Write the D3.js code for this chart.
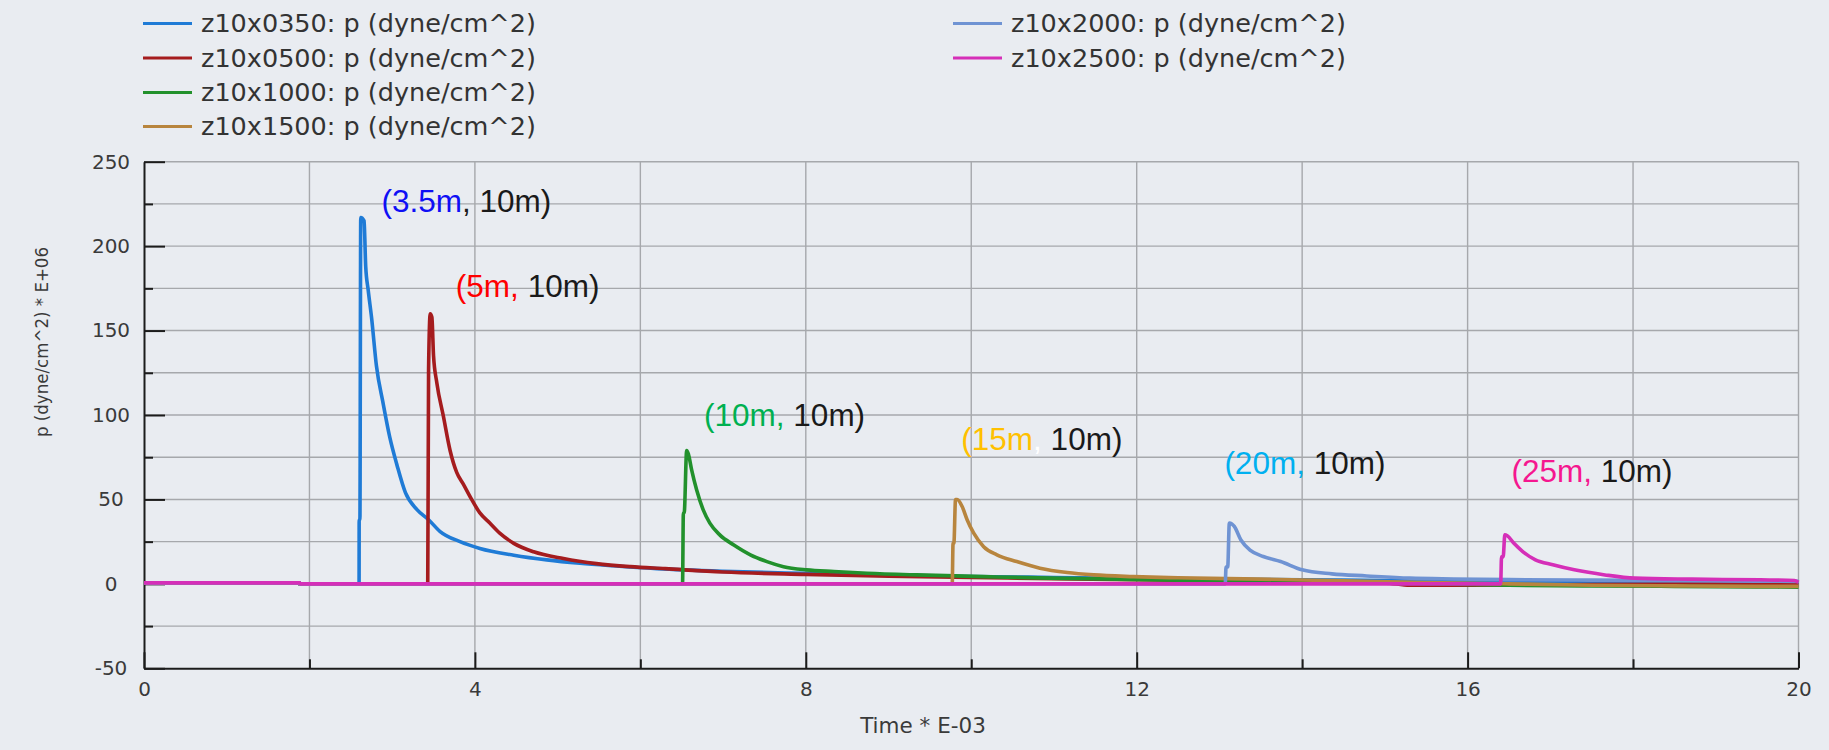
<!DOCTYPE html>
<html>
<head>
<meta charset="utf-8">
<script src="https://cdn.jsdelivr.net/npm/d3@7"></script>
<style>
  html, body { margin: 0; padding: 0; background: #e9ecf1; }
  svg { display: block; }
</style>
</head>
<body>
<svg id="chart" width="1829" height="750"></svg>
<script>
// Pressure histories p (1e6 dyne/cm^2) against time (ms) at six gauge stations.
const tS0350 = [0, 1.88, 1.881, 2.60, 2.601, 2.61, 2.62, 2.66, 2.68, 2.71, 2.75, 2.81, 2.89, 2.97, 3.06, 3.16, 3.30, 3.44, 3.58, 3.82, 4.06, 4.47, 4.87, 5.27, 5.67, 6.2, 7.0, 8.0, 9.0, 10.0, 11.0, 12.0, 13.0, 14.0, 15.0, 16.0, 17.0, 18.0, 19.0, 20.0];
const pS0350 = [0.6, 0.6, 0, 0, 38, 38, 217, 215, 188, 174, 158, 129, 107, 87, 70, 54, 44, 38, 31, 25, 21, 17, 14.2, 12.2, 10.7, 9.0, 7.4, 6.2, 5.2, 4.4, 3.8, 3.2, 2.8, 2.4, 2.0, 1.6, 1.3, 1.0, 0.8, 0.5];

const tS0500 = [0, 1.88, 1.881, 3.42, 3.43, 3.44, 3.46, 3.48, 3.50, 3.54, 3.62, 3.70, 3.78, 3.86, 3.96, 4.06, 4.18, 4.30, 4.47, 4.71, 5.07, 5.47, 5.88, 6.3, 7.0, 8.0, 9.0, 10.0, 11.0, 12.0, 13.0, 14.0, 15.0, 15.3, 16.0, 17.0, 18.0, 19.0, 20.0];
const pS0500 = [0.6, 0.6, 0, 0, 1, 127, 160, 158, 135, 119, 99, 79, 66, 59, 50, 42, 36, 30, 24, 19, 15, 12, 10.2, 9.0, 7.0, 5.6, 4.5, 3.8, 3.0, 2.4, 1.8, 1.2, 0.6, -0.8, -0.8, -0.5, -0.3, 0, -0.5];

const tS1000 = [0, 1.88, 1.881, 6.51, 6.52, 6.53, 6.56, 6.58, 6.62, 6.68, 6.76, 6.84, 6.96, 7.13, 7.33, 7.53, 7.73, 8.01, 8.34, 8.74, 9.34, 10.15, 10.95, 11.76, 12.5, 13.5, 14.5, 15.5, 16.5, 17.5, 18.5, 19.5, 20.0];
const pS1000 = [0.6, 0.6, 0, 0, 42, 42, 79, 77, 67.5, 55.7, 43.8, 36, 29, 23, 17.2, 13.2, 10.2, 8.3, 7.3, 6.3, 5.3, 4.3, 3.4, 2.8, 2.2, 1.6, 0.8, 0, -0.8, -1.2, -1.5, -1.8, -2];

const tS1500 = [0, 1.88, 1.881, 9.77, 9.78, 9.79, 9.81, 9.83, 9.89, 9.95, 10.03, 10.15, 10.31, 10.55, 10.83, 11.16, 11.48, 11.96, 12.5, 13.5, 14.5, 15.5, 16.5, 17.5, 18.5, 19.5, 20.0];
const pS1500 = [0.6, 0.6, 0, 0, 24, 24, 50, 50, 45.8, 38, 30, 22, 17.2, 13.2, 9.3, 6.7, 5.3, 4.3, 3.6, 2.8, 1.8, 0.8, 0, -0.8, -1.2, -1.5, -1.5];

const tS2000 = [0, 1.88, 1.881, 13.07, 13.08, 13.10, 13.12, 13.15, 13.18, 13.26, 13.37, 13.53, 13.74, 14.0, 14.36, 14.78, 15.30, 15.83, 16.5, 17.5, 18.5, 19.5, 20.0];
const pS2000 = [0.6, 0.6, 0, 0, 10, 10, 36, 35.5, 34, 26, 20, 16.2, 13.2, 8.3, 5.9, 4.7, 3.4, 2.9, 2.5, 2.2, 1.9, 1.6, 1.5];

const tS2500 = [0, 1.88, 1.89, 16.40, 16.41, 16.43, 16.45, 16.48, 16.56, 16.67, 16.82, 17.03, 17.29, 17.66, 18.02, 18.71, 19.54, 19.95, 20.0];
const pS2500 = [0.6, 0.6, 0, 0, 16, 16, 29, 28.5, 24, 19, 14.2, 11.3, 8.3, 5.3, 3.4, 2.8, 2.4, 2.0, 1.0];

const seriesNames = ["z10x0350: p (dyne/cm^2)", "z10x0500: p (dyne/cm^2)", "z10x1000: p (dyne/cm^2)",
                     "z10x1500: p (dyne/cm^2)", "z10x2000: p (dyne/cm^2)", "z10x2500: p (dyne/cm^2)"];
const seriesTimes = [tS0350, tS0500, tS1000, tS1500, tS2000, tS2500];
const seriesValues = [pS0350, pS0500, pS1000, pS1500, pS2000, pS2500];
const seriesColors = ["#1f7bd6", "#a51c1e", "#22912c", "#b8853e", "#6f93d3", "#d52fb8"];

// x ticks (ms) and y ticks (1e6 dyne/cm^2)
const xMajorTicks = [0, 4, 8, 12, 16, 20];
const xMinorTicks = [2, 6, 10, 14, 18];
const yMajorTicks = [-50, 0, 50, 100, 150, 200, 250];
const yMinorTicks = [-25, 25, 75, 125, 175, 225];
const xGridValues = [2, 4, 6, 8, 10, 12, 14, 16, 18, 20];
const yGridValues = [-25, 0, 25, 50, 75, 100, 125, 150, 175, 200, 225, 250];

// station annotations: (x offset, depth) placed at (time, pressure)
const noteLead = ["(3.5m", "(5m", "(10m", "(15m", "(20m", "(25m"];
const noteTail = " 10m)";
const noteT = [2.87, 3.77, 6.77, 9.88, 13.06, 16.53];
const noteP = [220, 170, 93.5, 79.3, 65, 60.4];
const noteColors = ["#0f0ff5", "#ff0000", "#00b050", "#ffc000", "#00b0f0", "#f5178f"];
const noteCommaColors = ["#1a1a1a", "#ff0000", "#00b050", "#ffffff", "#00b0f0", "#f5178f"];

const svg = d3.select("#chart");
const W = 1829, H = 750;
svg.append("rect").attr("width", W).attr("height", H).attr("fill", "#e9ecf1");

const plot = { left: 144, right: 1798.5, top: 161.7, bottom: 668.3 };
const x = d3.scaleLinear().domain([0, 20]).range([plot.left, plot.right]);
const y = d3.scaleLinear().domain([-50, 250]).range([plot.bottom, plot.top]);

// grid
const grid = svg.append("g").attr("stroke", "#a6a8ac").attr("stroke-width", 1.4);
grid.selectAll("line.h").data(yGridValues).join("line")
  .attr("x1", plot.left).attr("x2", plot.right)
  .attr("y1", d => y(d)).attr("y2", d => y(d));
grid.selectAll("line.v").data(xGridValues).join("line")
  .attr("y1", plot.top).attr("y2", plot.bottom)
  .attr("x1", d => x(d)).attr("x2", d => x(d));

const axisFont = "'DejaVu Sans', sans-serif";
const plain = d => String(d);

// y axis: inward ticks, centred labels
const yAxis = svg.append("g").attr("transform", `translate(${plot.left},0)`)
  .call(d3.axisLeft(y).tickValues(yMajorTicks).tickSize(-21).tickSizeOuter(0).tickFormat(plain));
svg.append("g").attr("transform", `translate(${plot.left},0)`)
  .call(d3.axisLeft(y).tickValues(yMinorTicks).tickSize(-9).tickFormat(""))
  .call(g => g.select(".domain").remove());
yAxis.selectAll("text").attr("x", -33).attr("text-anchor", "middle")
  .attr("font-family", axisFont).attr("font-size", 20).attr("fill", "#3a3a3a");

// x axis
const xAxis = svg.append("g").attr("transform", `translate(0,${plot.bottom})`)
  .call(d3.axisBottom(x).tickValues(xMajorTicks).tickSize(-16).tickSizeOuter(0).tickFormat(plain));
svg.append("g").attr("transform", `translate(0,${plot.bottom})`)
  .call(d3.axisBottom(x).tickValues(xMinorTicks).tickSize(-9).tickFormat(""))
  .call(g => g.select(".domain").remove());
xAxis.selectAll("text").attr("y", 21).attr("dy", "0.35em")
  .attr("font-family", axisFont).attr("font-size", 20).attr("fill", "#3a3a3a");

svg.selectAll(".domain, .tick line").attr("stroke", "#1c1c1c").attr("stroke-width", 2);

// axis titles
svg.append("text").attr("x", 923).attr("y", 725).attr("dy", "0.35em")
  .attr("text-anchor", "middle").attr("font-family", "'DejaVu Sans', sans-serif")
  .attr("font-size", 21.5).attr("fill", "#3a3a3a").text("Time * E-03");
svg.append("text").attr("transform", "translate(42,342) rotate(-90)").attr("dy", "0.35em")
  .attr("text-anchor", "middle").attr("font-family", "'DejaVu Sans Condensed', 'DejaVu Sans', sans-serif")
  .attr("font-stretch", "condensed")
  .attr("font-size", 18.5).attr("fill", "#3a3a3a").text("p (dyne/cm^2) * E+06");

// series: monotone interpolation keeps the decays smooth without overshoot
const line = d3.line().curve(d3.curveMonotoneX).x(d => x(d[0])).y(d => y(d[1]));
const lines = svg.append("g").attr("fill", "none").attr("stroke-width", 3.6)
  .attr("stroke-linejoin", "round").attr("stroke-linecap", "butt");
seriesNames.forEach((name, i) => {
  const pts = d3.zip(seriesTimes[i], seriesValues[i]);
  lines.append("path").datum(pts).attr("stroke", seriesColors[i]).attr("d", line);
});

// annotations
const notes = svg.append("g").attr("font-family", "'Liberation Sans', Arial, sans-serif").attr("font-size", 31.5);
noteLead.forEach((lead, i) => {
  const t = notes.append("text").attr("x", x(noteT[i])).attr("y", y(noteP[i]));
  t.append("tspan").attr("fill", noteColors[i]).text(lead);
  t.append("tspan").attr("fill", noteCommaColors[i]).text(",");
  t.append("tspan").attr("fill", "#1a1a1a").text(noteTail);
});

// legend
const legendCols = [{ x: 143, rows: [0, 1, 2, 3] }, { x: 953, rows: [4, 5] }];
const legendRowY = [23.5, 58, 92.5, 126.5];
const legend = svg.append("g").attr("font-family", "'DejaVu Sans', sans-serif").attr("font-size", 25.5);
legendCols.forEach(col => {
  col.rows.forEach((si, r) => {
    const g = legend.append("g").attr("transform", `translate(${col.x},${legendRowY[r]})`);
    g.append("line").attr("x1", 0).attr("x2", 49).attr("stroke", seriesColors[si]).attr("stroke-width", 3.2);
    g.append("text").attr("x", 58).attr("dy", "0.35em").attr("fill", "#333").text(seriesNames[si]);
  });
});
</script>
</body>
</html>
